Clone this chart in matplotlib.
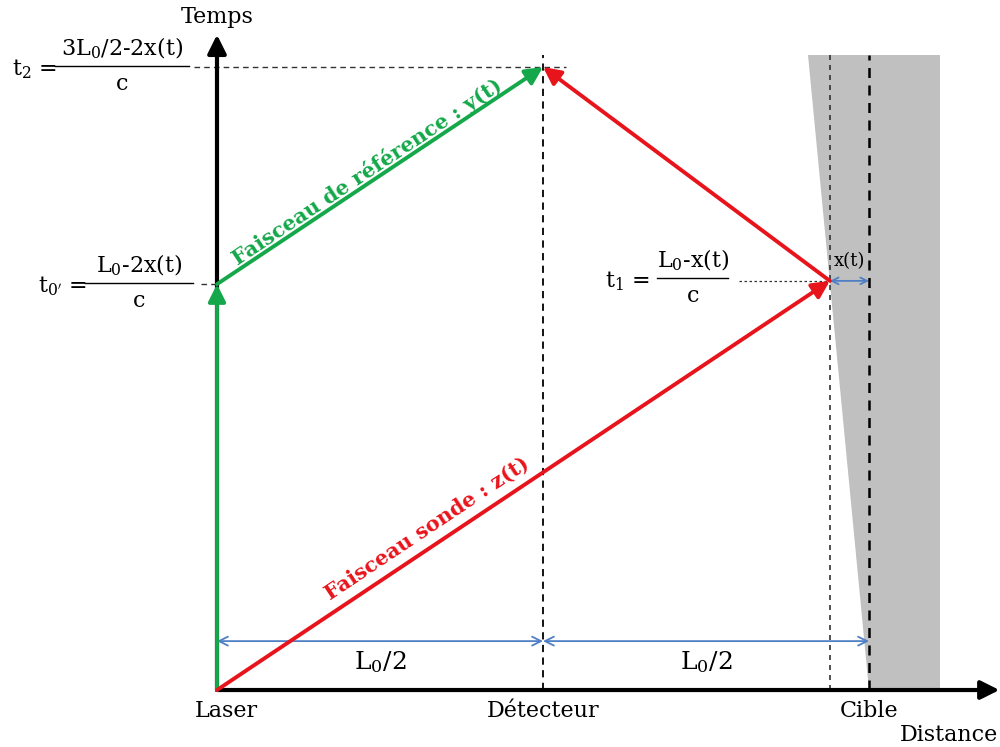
import numpy as np
import matplotlib
matplotlib.use("Agg")
from matplotlib import pyplot as plt
from matplotlib.patches import Polygon

plt.rcParams['font.family'] = 'DejaVu Serif'
plt.rcParams['mathtext.fontset'] = 'dejavuserif'
plt.rcParams['mathtext.default'] = 'rm'

# positions (units of L0/2)
L0 = 2.0
x_laser = 0.0
x_det = L0 / 2
x_cible = L0
x_t = 0.12              # displacement of target surface
t0p = 1.245             # t0'
t1 = 1.255
t2 = 1.911
t_top = 1.948           # top of gray target block / dashed lines
target_right = 2.217
target_left_top = 1.813

labels_x = ['Laser', 'Détecteur', 'Cible']
label_pos = [x_laser, x_det, x_cible]

green = '#14a84a'
red = '#e8141b'
blue = '#4f7fc4'

fig = plt.figure(figsize=(10, 7.47), dpi=100)
ax = fig.add_axes([0, 0, 1, 1])
ax.set_xlim(-0.6656, 2.4018)
ax.set_ylim(-0.1748, 2.1166)
ax.set_aspect('equal')
ax.axis('off')

# target block
ax.add_patch(Polygon([[target_left_top, t_top], [target_right, t_top],
                      [target_right, 0], [x_cible, 0]],
                     closed=True, facecolor='#c0c0c0', edgecolor='none', zorder=0))

# vertical dashed lines
ax.plot([x_det, x_det], [0, t_top], color='k', ls=(0, (4, 3)), lw=1.3)
ax.plot([x_cible, x_cible], [0, t_top], color='k', ls=(0, (4, 3)), lw=1.8)
ax.plot([x_cible - x_t, x_cible - x_t], [0, t_top], color='#333333', ls=(0, (3, 3)), lw=1.2)

# horizontal dashed lines
ax.plot([-0.07, x_det + 0.07], [t2, t2], color='#333333', ls=(0, (4, 3)), lw=1.0)
ax.plot([-0.05, x_laser], [t0p, t0p], color='#333333', ls=(0, (4, 3)), lw=1.0)
ax.plot([1.6, x_cible - x_t], [t1, t1], color='#333333', ls=(0, (2, 2)), lw=0.9)

# axes arrows
ax.annotate('', xy=(x_laser, 2.01), xytext=(x_laser, 0),
            arrowprops=dict(arrowstyle='-|>', color='k', lw=3, mutation_scale=28,
                            shrinkA=0, shrinkB=0))
ax.annotate('', xy=(2.4, 0), xytext=(x_laser, 0),
            arrowprops=dict(arrowstyle='-|>', color='k', lw=3, mutation_scale=28,
                            shrinkA=0, shrinkB=0))


def beam(p0, p1, color):
    ax.annotate('', xy=p1, xytext=p0,
                arrowprops=dict(arrowstyle='-|>', color=color, lw=2.8, mutation_scale=26,
                                shrinkA=0, shrinkB=0), zorder=5)


hit = (x_cible - x_t, t1)
beam((x_laser, 0), (x_laser, t0p), green)
beam((x_laser, t0p), (x_det, t2), green)
beam((x_laser, 0), hit, red)
beam(hit, (x_det, t2), red)

# beam labels
ang_g = np.degrees(np.arctan2(t2 - t0p, x_det - x_laser))
ang_r = np.degrees(np.arctan2(t1, hit[0]))
ax.text(0.46, 1.59, 'Faisceau de référence : y(t)', color=green, fontsize=15,
        fontweight='heavy', rotation=ang_g, ha='center', va='center', rotation_mode='anchor')
ax.text(0.645, 0.495, 'Faisceau sonde : z(t)', color=red, fontsize=15,
        fontweight='heavy', rotation=ang_r, ha='center', va='center', rotation_mode='anchor')

# distance arrows
y_dist = 0.15
for a, b in [(x_laser, x_det), (x_det, x_cible)]:
    ax.annotate('', xy=(b, y_dist), xytext=(a, y_dist),
                arrowprops=dict(arrowstyle='<->', color=blue, lw=1.3, mutation_scale=16,
                                shrinkA=0, shrinkB=0))
    ax.text((a + b) / 2, 0.085, 'L$_0$/2', fontsize=18, ha='center', va='center')
ax.annotate('', xy=(x_cible, t1), xytext=(x_cible - x_t, t1),
            arrowprops=dict(arrowstyle='<->', color=blue, lw=1.3, mutation_scale=12,
                            shrinkA=0, shrinkB=0))
ax.text(x_cible - x_t / 2, t1 + 0.06, 'x(t)', fontsize=13, ha='center', va='center')

# axis labels
for lab, xp in zip(labels_x, label_pos):
    ax.text(xp + (0.03 if lab == 'Laser' else 0), -0.065, lab, fontsize=16, ha='center', va='center')
ax.text(2.245, -0.138, 'Distance', fontsize=16, ha='center', va='center')
ax.text(x_laser, 2.063, 'Temps', fontsize=16, ha='center', va='center')


def frac(xc, y, num, width, lhs):
    ax.plot([xc - width / 2, xc + width / 2], [y, y], color='k', lw=1.0)
    ax.text(xc, y + 0.055, num, fontsize=16, ha='center', va='center')
    ax.text(xc, y - 0.055, 'c', fontsize=16, ha='center', va='center')
    ax.text(xc - width / 2 + 0.005, y - 0.01, lhs, fontsize=16, ha='right', va='center')


frac(-0.291, t2 + 0.003, '3L$_0$/2-2x(t)', 0.41, 't$_2$ =')
frac(-0.239, t0p + 0.003, 'L$_0$-2x(t)', 0.33, "t$_{0'}$ =")
frac(1.46, t1 + 0.008, 'L$_0$-x(t)', 0.218, 't$_1$ =  ')

fig.savefig('out.png', dpi=100)
